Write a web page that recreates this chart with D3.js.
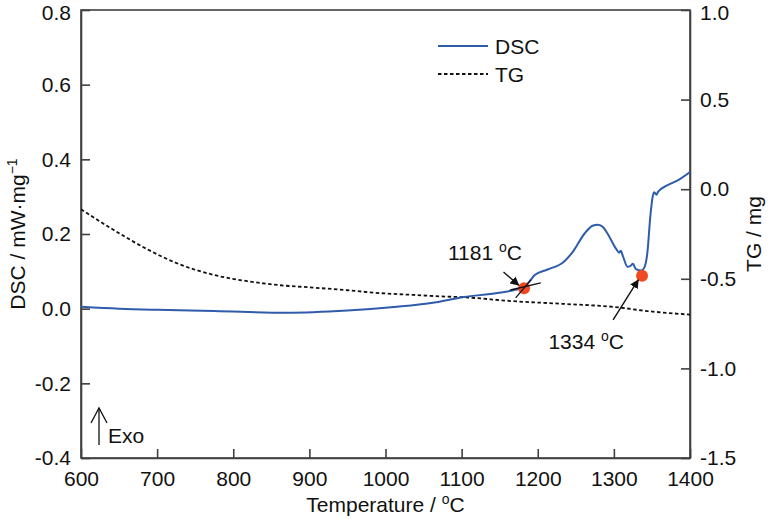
<!DOCTYPE html>
<html>
<head>
<meta charset="utf-8">
<script src="https://cdn.jsdelivr.net/npm/d3@7"></script>
<style>
  body { margin: 0; background: #fff; }
  svg { display: block; font-family: "Liberation Sans", Arial, sans-serif; }
</style>
</head>
<body>
<svg id="chart" width="768" height="519"></svg>
<script>
// ---- data ----
const dscT = [600, 650, 700, 775, 870, 950, 1015, 1060, 1103, 1147, 1169, 1182, 1190, 1196, 1213, 1234, 1247, 1261, 1272, 1279, 1286, 1292, 1303, 1307, 1309, 1312, 1318, 1322, 1325, 1329, 1336, 1340, 1344, 1348, 1351, 1353, 1356, 1358, 1370, 1385, 1400];
const dscV = [0.005, 0.0, -0.003, -0.006, -0.011, -0.005, 0.005, 0.015, 0.031, 0.042, 0.05, 0.058, 0.075, 0.09, 0.105, 0.125, 0.155, 0.2, 0.222, 0.225, 0.218, 0.2, 0.16, 0.15, 0.155, 0.14, 0.112, 0.115, 0.12, 0.106, 0.102, 0.11, 0.15, 0.25, 0.3, 0.312, 0.305, 0.313, 0.33, 0.345, 0.366];
const tgT = [600, 642, 687, 730, 774, 818, 862, 905, 950, 993, 1037, 1072, 1103, 1168, 1234, 1300, 1344, 1400];
const tgV = [-0.112, -0.225, -0.335, -0.42, -0.478, -0.513, -0.536, -0.549, -0.564, -0.58, -0.59, -0.598, -0.603, -0.625, -0.64, -0.657, -0.68, -0.7];
const xTicks = [600, 700, 800, 900, 1000, 1100, 1200, 1300, 1400];
const yLeftTicks = [-0.4, -0.2, 0.0, 0.2, 0.4, 0.6, 0.8];
const yRightTicks = [-1.5, -1.0, -0.5, 0.0, 0.5, 1.0];
const onsetT = [1182, 1337];
const onsetV = [0.055, 0.088];
const onsetLabels = ["1181", "1334"];
const labelT = [1082, 1214];
const labelV = [0.13, -0.108];
const arrowFrom = [[1155, 0.098], [1299, -0.03]];
const arrowTo = [[1175, 0.063], [1332, 0.077]];
const tangent1 = [[1164, 0.05], [1204, 0.069]];
const tangent2 = [[1171, 0.029], [1191, 0.077]];
const seriesNames = ["DSC", "TG"];

// ---- layout ----
const L = 81, R = 690, T = 10, B = 458;
const svg = d3.select("#chart");
const x = d3.scaleLinear().domain([600, 1400]).range([L, R]);
const yL = d3.scaleLinear().domain([-0.4, 0.8]).range([B, T]);
const yR = d3.scaleLinear().domain([-1.5, 1.0]).range([B, T]);
const axisColor = "#404040";
const fs = 21;
const blue = "#2f5caa";

// frame
svg.append("rect").attr("x", L).attr("y", T).attr("width", R - L).attr("height", B - T)
  .attr("fill", "none").attr("stroke", axisColor).attr("stroke-width", 1.6);

function styleAxis(g) {
  g.selectAll("path.domain").attr("stroke", axisColor).attr("stroke-width", 1.6);
  g.selectAll(".tick line").attr("stroke", axisColor).attr("stroke-width", 1.6);
  g.selectAll(".tick text").attr("fill", "#111").style("font-size", fs + "px")
    .style("font-family", '"Liberation Sans", Arial, sans-serif');
}
const fmt1 = d => d3.format(".1f")(d).replace("−", "-");

svg.append("g").attr("transform", `translate(0,${B})`)
  .call(d3.axisBottom(x).tickValues(xTicks).tickSizeInner(-9).tickSizeOuter(0).tickPadding(13).tickFormat(d3.format("d")))
  .call(styleAxis);
const gl = svg.append("g").attr("transform", `translate(${L},0)`)
  .call(d3.axisLeft(yL).tickValues(yLeftTicks).tickSizeInner(-9).tickSizeOuter(0).tickPadding(10).tickFormat(fmt1))
  .call(styleAxis);
const gr = svg.append("g").attr("transform", `translate(${R},0)`)
  .call(d3.axisRight(yR).tickValues(yRightTicks).tickSizeInner(-9).tickSizeOuter(0).tickPadding(10).tickFormat(fmt1))
  .call(styleAxis);
// keep the top labels inside the picture
gl.selectAll(".tick text").filter(d => d === 0.8).attr("dy", "0.45em");
gr.selectAll(".tick text").filter(d => d === 1.0).attr("dy", "0.45em");

// axis titles
const xt = svg.append("text").attr("x", (L + R) / 2).attr("y", 512).attr("text-anchor", "middle")
  .style("font-size", fs + "px").attr("fill", "#111");
xt.append("tspan").text("Temperature / ");
xt.append("tspan").attr("dy", -8).style("font-size", "14px").text("o");
xt.append("tspan").attr("dy", 8).text("C");

const ylt = svg.append("text").attr("transform", `translate(25,${(T + B) / 2}) rotate(-90)`)
  .attr("text-anchor", "middle").style("font-size", fs + "px").attr("fill", "#111");
ylt.append("tspan").text("DSC / mW·mg");
ylt.append("tspan").attr("dy", -8).style("font-size", "14px").text("−1");

svg.append("text").attr("transform", `translate(761,${(T + B) / 2}) rotate(-90)`)
  .attr("text-anchor", "middle").style("font-size", fs + "px").attr("fill", "#111")
  .text("TG / mg");

// clip
svg.append("clipPath").attr("id", "clip").append("rect")
  .attr("x", L).attr("y", T).attr("width", R - L).attr("height", B - T);

// TG line
const tgLine = d3.line().x((d, i) => x(tgT[i])).y(d => yR(d)).curve(d3.curveMonotoneX);
svg.append("path").datum(tgV).attr("clip-path", "url(#clip)")
  .attr("d", tgLine).attr("fill", "none").attr("stroke", "#111")
  .attr("stroke-width", 1.8).attr("stroke-dasharray", "3.5,2.5");

// DSC line
const dscLine = d3.line().x((d, i) => x(dscT[i])).y(d => yL(d)).curve(d3.curveMonotoneX);
svg.append("path").datum(dscV).attr("clip-path", "url(#clip)")
  .attr("d", dscLine).attr("fill", "none").attr("stroke", blue).attr("stroke-width", 2);

// onset dots
svg.selectAll("circle.onset").data(onsetT).enter().append("circle")
  .attr("cx", d => x(d)).attr("cy", (d, i) => yL(onsetV[i])).attr("r", 6)
  .attr("fill", "#f04a22");

// tangent lines
[tangent1, tangent2].forEach(t => {
  svg.append("line").attr("x1", x(t[0][0])).attr("y1", yL(t[0][1]))
    .attr("x2", x(t[1][0])).attr("y2", yL(t[1][1]))
    .attr("stroke", "#111").attr("stroke-width", 1.3);
});

// arrows
svg.append("defs").append("marker").attr("id", "ah").attr("viewBox", "0 0 10 10")
  .attr("refX", 9).attr("refY", 5).attr("markerWidth", 9).attr("markerHeight", 9)
  .attr("markerUnits", "userSpaceOnUse").attr("orient", "auto")
  .append("path").attr("d", "M0,0 L10,5 L0,10 Z").attr("fill", "#111");
arrowFrom.forEach((f, i) => {
  svg.append("line").attr("x1", x(f[0])).attr("y1", yL(f[1]))
    .attr("x2", x(arrowTo[i][0])).attr("y2", yL(arrowTo[i][1]))
    .attr("stroke", "#111").attr("stroke-width", 1.4).attr("marker-end", "url(#ah)");
});

// onset labels
onsetLabels.forEach((lab, i) => {
  const t = svg.append("text").attr("x", x(labelT[i])).attr("y", yL(labelV[i]))
    .style("font-size", fs + "px").attr("fill", "#111");
  t.append("tspan").text(lab + " ");
  t.append("tspan").attr("dy", -8).style("font-size", "14px").text("o");
  t.append("tspan").attr("dy", 8).text("C");
});

// legend
const legY = [46, 74];
svg.append("line").attr("x1", 438).attr("x2", 488).attr("y1", legY[0]).attr("y2", legY[0])
  .attr("stroke", blue).attr("stroke-width", 2);
svg.append("line").attr("x1", 438).attr("x2", 488).attr("y1", legY[1]).attr("y2", legY[1])
  .attr("stroke", "#111").attr("stroke-width", 1.8).attr("stroke-dasharray", "3.5,2.5");
seriesNames.forEach((n, i) => {
  svg.append("text").attr("x", 495).attr("y", legY[i] + 8).style("font-size", fs + "px")
    .attr("fill", "#111").text(n);
});

// Exo marker
svg.append("line").attr("x1", 99).attr("x2", 99).attr("y1", 445).attr("y2", 408)
  .attr("stroke", "#111").attr("stroke-width", 1.3);
svg.append("path").attr("d", "M91,423 L99,408 L107,423").attr("fill", "none")
  .attr("stroke", "#111").attr("stroke-width", 1.3);
svg.append("text").attr("x", 108).attr("y", 443).style("font-size", fs + "px")
  .attr("fill", "#111").text("Exo");
</script>
</body>
</html>
